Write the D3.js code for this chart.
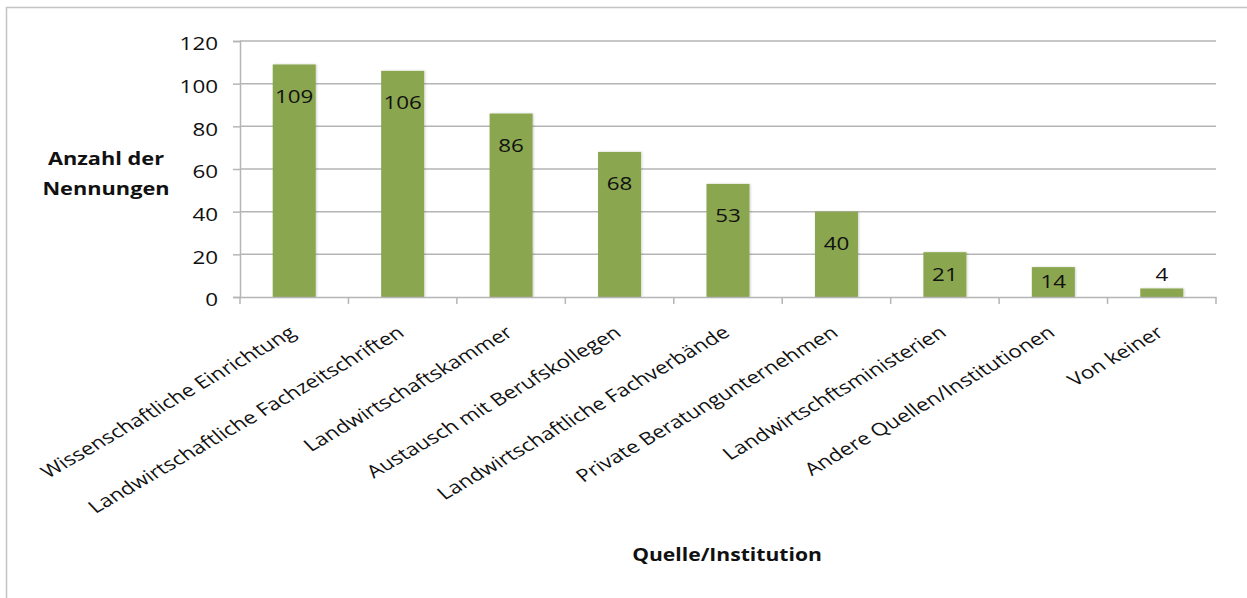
<!DOCTYPE html>
<html><head><meta charset="utf-8">
<script src="https://cdn.jsdelivr.net/npm/d3@7"></script>
<style>
html,body{margin:0;padding:0;background:#fff;}
svg{display:block;font-family:"Open Sans",sans-serif;}
</style></head>
<body><svg id="c" width="1247" height="598"></svg>
<script>
const categories = ["Wissenschaftliche Einrichtung","Landwirtschaftliche Fachzeitschriften","Landwirtschaftskammer","Austausch mit Berufskollegen","Landwirtschaftliche Fachverbände","Private Beratungunternehmen","Landwirtschftsministerien","Andere Quellen/Institutionen","Von keiner"];
const values = [109,106,86,68,53,40,21,14,4];
const yTicks = [0,20,40,60,80,100,120];
const yTitle = ["Anzahl der","Nennungen"];
const xTitle = "Quelle/Institution";

const SX = 1.28;      // horizontal text stretch seen in the reference
const FS = 17.5;
const ANG = Math.atan(SX*Math.tan(30*Math.PI/180))*180/Math.PI;

const svg = d3.select("#c");
const defs = svg.append("defs");
const f = defs.append("filter").attr("id","sh").attr("x","-20%").attr("y","-20%").attr("width","140%").attr("height","140%");
f.append("feDropShadow").attr("dx",1).attr("dy",0).attr("stdDeviation",1).attr("flood-color","#000").attr("flood-opacity",0.18);

svg.append("rect").attr("x",6.5).attr("y",7.5).attr("width",1260).attr("height",620)
  .attr("fill","#fff").attr("stroke","#c4c4c4").attr("stroke-width",1.5);

const x = d3.scaleBand().domain(categories).range([240,1216]).padding(0);
const y = d3.scaleLinear().domain([0,120]).range([297,41]);
const barW = 43;

// gridlines
svg.append("g").selectAll("line").data(yTicks.filter(d=>d>0)).join("line")
  .attr("x1",240).attr("x2",1216).attr("y1",d=>y(d)).attr("y2",d=>y(d))
  .attr("stroke","#b5b5b5").attr("stroke-width",1.5);

// y axis
const yAxis = d3.axisLeft(y).tickValues(yTicks).tickSize(7);
const gy = svg.append("g").attr("transform","translate(240,0)").call(yAxis);
gy.select(".domain").attr("stroke","#b5b5b5").attr("stroke-width",1.5);
gy.selectAll(".tick line").attr("stroke","#b5b5b5").attr("stroke-width",1.5);
gy.selectAll(".tick text").attr("x",null).attr("dy","0.5em")
  .attr("transform",`translate(-22,0) scale(${SX},1)`)
  .attr("font-size",FS).attr("fill","#111").attr("font-family","Open Sans");

// bars
svg.append("g").selectAll("rect").data(values).join("rect")
  .attr("x",(d,i)=>x(categories[i])+x.bandwidth()/2-barW/2)
  .attr("width",barW)
  .attr("y",d=>y(d)).attr("height",d=>y(0)-y(d))
  .attr("fill","#8aa64f").attr("filter","url(#sh)");

// x axis
const xAxis = d3.axisBottom(x).tickSize(0).tickFormat("");
const gx = svg.append("g").attr("transform","translate(0,297)").call(xAxis);
gx.select(".domain").attr("stroke","#b5b5b5").attr("stroke-width",1.5);
gx.selectAll(".tick").remove();
const bounds = d3.range(categories.length+1).map(i=>240+i*x.step());
gx.selectAll("line.b").data(bounds).join("line").attr("class","b")
  .attr("x1",d=>d).attr("x2",d=>d).attr("y1",0).attr("y2",7)
  .attr("stroke","#b5b5b5").attr("stroke-width",1.5);

// category labels
svg.append("g").selectAll("text").data(categories).join("text")
  .attr("transform",d=>`translate(${x(d)+x.bandwidth()/2+3},335) scale(${SX},1) rotate(${-ANG})`)
  .attr("text-anchor","end")
  .attr("font-size",FS).attr("fill","#111").text(d=>d);

// value labels
svg.append("g").selectAll("text").data(values).join("text")
  .attr("transform",(d,i)=>{
    const h=y(0)-y(d);
    const cy = h<20 ? y(d)-14 : y(d)+Math.min(32,h/2);
    return `translate(${x(categories[i])+x.bandwidth()/2},${cy}) scale(${SX},1)`;})
  .attr("dy","0.36em").attr("text-anchor","middle")
  .attr("font-size",FS).attr("fill","#111").text(d=>d);

// axis titles
svg.append("g").attr("transform",`translate(106,0) scale(${SX},1)`)
  .append("text").attr("text-anchor","middle")
  .attr("font-size",17).attr("font-weight","bold").attr("fill","#111")
  .selectAll("tspan").data(yTitle).join("tspan")
  .attr("x",0).attr("y",(d,i)=>165+i*30).text(d=>d);
svg.append("text").attr("transform",`translate(727,561) scale(${SX*0.97},1)`).attr("text-anchor","middle")
  .attr("font-size",17).attr("font-weight","bold").attr("fill","#111").text(xTitle);
</script></body></html>
